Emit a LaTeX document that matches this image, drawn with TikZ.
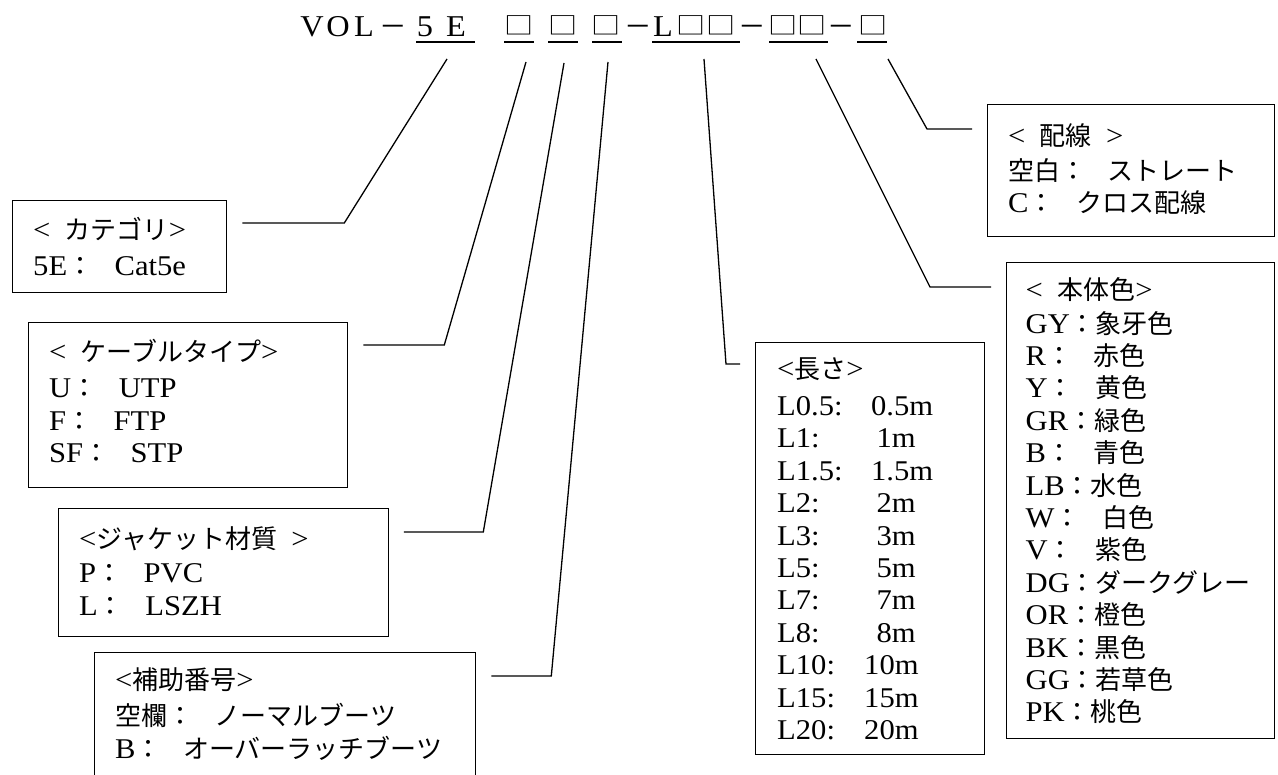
\documentclass[tikz,border=0pt]{standalone}
\usepackage{fontspec}
\usepackage{graphicx}
\setmainfont{Liberation Serif}[Scale=1.1, FakeStretch=1.07]
\newfontfamily\jpfont{Noto Sans CJK JP}
\usetikzlibrary{calc}
\newcommand{\jp}[1]{{\jpfont #1}}
\newcommand{\cl}{\jp{：}}
\newcommand{\gp}{\hspace{0.75em}}
\newcommand{\blank}{\raisebox{2.5pt}{\scalebox{1.12}[0.93]{\fontsize{26}{26}\jpfont □}}}
\newcommand{\lenrow}[3]{\makebox[#2pt][l]{#1}#3}
\tikzset{
  panel/.style={draw, line width=1.3pt, anchor=north west, inner sep=0pt},
  lead/.style={line width=1.3pt},
  uline/.style={line width=2pt},
  entry/.style={anchor=base west, inner sep=0pt, font=\fontsize{26}{32.4}\selectfont},
  titlech/.style={anchor=base, inner sep=0pt, font=\fontsize{27.5}{30}\selectfont}
}
\begin{document}
\begin{tikzpicture}[x=1pt, y=1pt]
    \useasboundingbox (0,0) rectangle (1278,-775);
    % title line
    \foreach \x/\c [count=\i] in {312/V, 338/O, 364/L, 393/\jp{－}, 425/5, 456/E,
        519/\blank, 563/\blank, 606/\blank, 638/\jp{－}, 663/L, 691/\blank,
        721/\blank, 752.5/\jp{－}, 783/\blank, 812/\blank, 841.5/\jp{－}, 873/\blank}
        \node[titlech] (t\i) at (\x,-37) {\c};
    \draw[uline] (416,-42.5) -- (475,-42.5);
    \draw[uline] (504,-42.5) -- (534,-42.5);
    \draw[uline] (548,-42.5) -- (578,-42.5);
    \draw[uline] (592,-42.5) -- (622,-42.5);
    \draw[uline] (652,-42.5) -- (740,-42.5);
    \draw[uline] (769,-42.5) -- (828,-42.5);
    \draw[uline] (857,-42.5) -- (887,-42.5);
    % where the leaders meet the title
    \coordinate (cat-top) at (447,-59);
    \coordinate (cable-top) at (526,-62);
    \coordinate (jacket-top) at (564,-63);
    \coordinate (sub-top) at (608,-62);
    \coordinate (len-top) at (704,-59);
    \coordinate (col-top) at (816,-59);
    \coordinate (wire-top) at (888,-59);

    % boxes on the left
    \node[panel, minimum width=214pt, minimum height=92pt] (cat) at (12,-200) {};
    \node[entry] (cat-txt) at ($(cat.north west)+(21,-39.5)$) {\begin{tabular}[t]{@{}l@{}}
        <\hspace{0.5em}\jp{カテゴリ}>\\[3.6pt]
        5E\cl\gp Cat5e
        \end{tabular}};
    \node[panel, minimum width=319pt, minimum height=165pt] (cable) at (28,-322) {};
    \node[entry] (cable-txt) at ($(cable.north west)+(21,-39.5)$) {\begin{tabular}[t]{@{}l@{}}
        <\hspace{0.5em}\jp{ケーブルタイプ}>\\[4pt]
        U\cl\gp UTP\\
        F\cl\gp FTP\\
        SF\cl\gp STP
        \end{tabular}};
    \node[panel, minimum width=329.5pt, minimum height=128pt] (jacket) at (58,-508) {};
    \node[entry] (jacket-txt) at ($(jacket.north west)+(21,-40.5)$) {\begin{tabular}[t]{@{}l@{}}
        <\jp{ジャケット材質}\hspace{0.5em}>\\[2pt]
        P\cl\gp PVC\\
        L\cl\gp LSZH
        \end{tabular}};
    \node[panel, minimum width=381pt, minimum height=150pt] (sub) at (94,-652) {};
    \node[entry] (sub-txt) at ($(sub.north west)+(21,-37.5)$) {\begin{tabular}[t]{@{}l@{}}
        <\jp{補助番号}>\\[4pt]
        \jp{空欄}\cl\gp\jp{ノーマルブーツ}\\
        B\cl\gp\jp{オーバーラッチブーツ}
        \end{tabular}};

    % boxes on the right
    \node[panel, minimum width=229pt, minimum height=412pt] (len) at (755,-342) {};
    \node[entry] (len-txt) at ($(len.north west)+(22,-36.5)$) {\begin{tabular}[t]{@{}l@{}}
        <\jp{長さ}>\\[4.6pt]
        \lenrow{L0.5:}{94}{0.5m}\\
        \lenrow{L1:}{99.5}{1m}\\
        \lenrow{L1.5:}{94}{1.5m}\\
        \lenrow{L2:}{99.5}{2m}\\
        \lenrow{L3:}{99.5}{3m}\\
        \lenrow{L5:}{99.5}{5m}\\
        \lenrow{L7:}{99.5}{7m}\\
        \lenrow{L8:}{99.5}{8m}\\
        \lenrow{L10:}{87}{10m}\\
        \lenrow{L15:}{87}{15m}\\
        \lenrow{L20:}{87}{20m}
        \end{tabular}};
    \node[panel, minimum width=268pt, minimum height=476pt] (col) at (1006,-262) {};
    \node[entry] (col-txt) at ($(col.north west)+(19.5,-37.5)$) {\begin{tabular}[t]{@{}l@{}}
        <\hspace{0.5em}\jp{本体色}>\\[1.2pt]
        GY\cl\jp{象牙色}\\
        R\cl\gp\jp{赤色}\\
        Y\cl\gp\jp{黄色}\\
        GR\cl\jp{緑色}\\
        B\cl\gp\jp{青色}\\
        LB\cl\jp{水色}\\
        W\cl\gp\jp{白色}\\
        V\cl\gp\jp{紫色}\\
        DG\cl\jp{ダークグレー}\\
        OR\cl\jp{橙色}\\
        BK\cl\jp{黒色}\\
        GG\cl\jp{若草色}\\
        PK\cl\jp{桃色}
        \end{tabular}};
    \node[panel, minimum width=287pt, minimum height=132pt] (wire) at (987,-104) {};
    \node[entry] (wire-txt) at ($(wire.north west)+(21,-41.5)$) {\begin{tabular}[t]{@{}l@{}}
        <\hspace{0.5em}\jp{配線}\hspace{0.5em}>\\[2.6pt]
        \jp{空白}\cl\gp\jp{ストレート}\\
        C\cl\gp\jp{クロス配線}
        \end{tabular}};

    % leaders
    \draw[lead] ($(cat.north east)+(15,-23)$) -- ++(102,0) -- (cat-top);
    \draw[lead] ($(cable.north east)+(15,-23)$) -- ++(81,0) -- (cable-top);
    \draw[lead] ($(jacket.north east)+(15,-24)$) -- ++(79.5,0) -- (jacket-top);
    \draw[lead] ($(sub.north east)+(15,-24)$) -- ++(60,0) -- (sub-top);
    \draw[lead] ($(len.north west)+(-15,-22)$) -- ++(-14,0) -- (len-top);
    \draw[lead] ($(col.north west)+(-15,-25)$) -- ++(-61,0) -- (col-top);
    \draw[lead] ($(wire.north west)+(-15,-25)$) -- ++(-45,0) -- (wire-top);
\end{tikzpicture}
\end{document}
